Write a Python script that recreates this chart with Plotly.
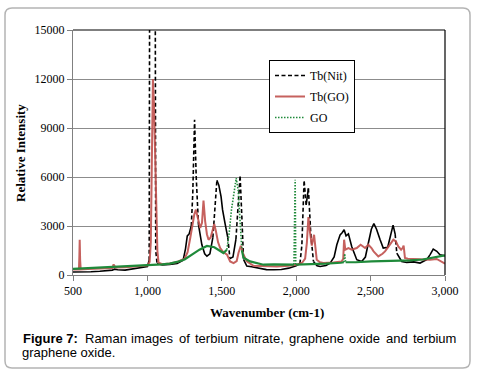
import plotly.graph_objects as go

# ---------------- data ----------------
tb_nit_x = [500, 560, 620, 680, 740, 765, 780, 800, 850, 900, 950, 1000, 1012, 1019, 1033, 1048, 1056, 1065,
            1100, 1150, 1200, 1240, 1256, 1268, 1280, 1295, 1305, 1317, 1328, 1343, 1366, 1385, 1400, 1420,
            1440, 1455, 1467, 1480, 1495, 1505, 1523, 1540, 1555, 1575, 1595, 1610, 1623, 1635, 1646, 1668,
            1700, 1750, 1800, 1850, 1900, 1950, 2000, 2025, 2038, 2053, 2067, 2082, 2098, 2116, 2140, 2161,
            2200, 2228, 2255, 2273, 2295, 2310, 2322, 2335, 2351, 2373, 2407, 2440, 2465, 2485, 2505, 2522,
            2540, 2564, 2585, 2615, 2635, 2651, 2665, 2676, 2709, 2743, 2790, 2832, 2877, 2900, 2921, 2945,
            2966, 3000]
tb_nit_y = [180, 170, 200, 230, 250, 300, 360, 320, 300, 370, 430, 520, 900, 40000, 45000, 40000, 1500, 700,
            620, 650, 700, 900, 1600, 2400, 2500, 3000, 5000, 9500, 6000, 3100, 1850, 1300, 1150, 1300,
            2300, 4200, 5800, 5500, 4800, 4000, 3100, 2300, 1000, 1100, 2200, 4500, 6100, 3500, 950, 550,
            500, 420, 330, 320, 340, 420, 560, 700, 1800, 5800, 4300, 5300, 2500, 830, 560, 520,
            580, 730, 1100, 1850, 2460, 2600, 2770, 2400, 2520, 1750, 935, 830, 1100, 1957, 2800, 3150,
            2800, 2160, 1650, 1700, 2400, 3050, 2500, 1345, 830, 770, 800, 730, 935, 1250, 1590, 1450,
            1240, 1180]

tb_go_x = [500, 540, 543, 545, 548, 552, 600, 700, 765, 773, 785, 850, 900, 1000, 1015, 1023, 1030, 1037,
           1044, 1050, 1056, 1061, 1067, 1075, 1100, 1150, 1200, 1250, 1270, 1288, 1300, 1315, 1326, 1340, 1355,
           1367, 1377, 1388, 1400, 1411, 1425, 1440, 1449, 1460, 1475, 1489, 1510, 1535, 1556, 1579, 1600,
           1612, 1628, 1646, 1668, 1713, 1800, 1870, 1950, 2004, 2040, 2060, 2072, 2082, 2093, 2105, 2120,
           2130, 2138, 2160, 2182, 2250, 2306, 2316, 2322, 2330, 2351, 2373, 2407, 2433, 2463, 2485, 2506,
           2520, 2552, 2580, 2597, 2625, 2653, 2670, 2686, 2705, 2715, 2722, 2731, 2750, 2809, 2850, 2899,
           2944, 2975, 3000]
tb_go_y = [340, 340, 1200, 2150, 900, 340, 360, 400, 420, 650, 460, 470, 500, 580, 800, 2000, 7000, 12000,
           10500, 8000, 6500, 4500, 1500, 750, 660, 700, 800, 1000, 1400, 2265, 3000, 3700, 4000, 3500, 2880,
           3200, 4550, 3300, 2500, 2160, 2300, 2800, 3120, 2700, 2000, 1650, 1400, 1250, 830, 730, 850,
           1345, 1790, 1240, 832, 560, 520, 526, 560, 630, 750, 1000, 2000, 3545, 2600, 1800, 2464,
           1700, 935, 780, 730, 760, 830, 1000, 2160, 1550, 1650, 1550, 1650, 1850, 1650, 1850, 1650,
           1445, 1140, 1300, 1445, 1800, 2160, 2050, 1750, 1550, 1650, 1800, 1040, 1000, 980, 950, 935,
           980, 850, 700]

go_x = [500, 600, 700, 800, 900, 1000, 1100, 1150, 1200, 1250, 1300, 1350, 1400, 1450, 1511, 1534, 1550,
        1565, 1580, 1597, 1610, 1622, 1635, 1646, 1690, 1780, 1850, 1985, 1993, 1997, 2100, 2200, 2300,
        2320, 2326, 2332, 2400, 2506, 2600, 2700, 2765, 2850, 2899, 2950, 3000]
go_y = [380, 420, 460, 520, 560, 620, 650, 700, 800, 950, 1250, 1550, 1780, 1700, 1345, 1550, 2600,
        4000, 5000, 5930, 5200, 3000, 1500, 1055, 830, 630, 650, 640, 5830, 640, 650, 700, 750,
        780, 1300, 780, 780, 830, 850, 880, 895, 950, 1040, 1100, 1200]

x_ticks = [500, 1000, 1500, 2000, 2500, 3000]
y_ticks = [0, 3000, 6000, 9000, 12000, 15000]

caption_words = ["<b>Figure 7:</b>", "Raman", "images", "of", "terbium", "nitrate,", "graphene",
                 "oxide", "and", "terbium"]
caption_line2 = "graphene oxide."

X_RANGE = [500, 3000]
Y_RANGE = [0, 15000]

# ---------------- layout geometry ----------------
W, H = 479, 377
ML, MR, MT, MB = 73, 34, 30, 102
PW, PH = W - ML - MR, H - MT - MB

# left pixel positions of the justified caption words (layout, not data)
caption_word_px = [20.7, 82.7, 129.3, 176.7, 193.3, 242.3, 287.3, 346.7, 384.3, 411.0]


def px_x(px):
    return (px - ML) / PW


def px_y(py):
    return (H - MB - py) / PH


def split_steep(xs, ys, thr):
    """Excel restarts a dash pattern on every segment, so only long, steep
    segments look dashed. Split the series into steep / gentle runs."""
    sx, sy, dx, dy = [], [], [], []
    prev = None
    for i in range(len(xs) - 1):
        wpx = (xs[i + 1] - xs[i]) / (X_RANGE[1] - X_RANGE[0]) * PW
        y0 = min(ys[i], Y_RANGE[1])
        y1 = min(ys[i + 1], Y_RANGE[1])
        hpx = abs(y1 - y0) / (Y_RANGE[1] - Y_RANGE[0]) * PH
        steep = hpx > thr * wpx
        tx, ty = (dx, dy) if steep else (sx, sy)
        if prev != steep:
            if tx:
                tx.append(None)
                ty.append(None)
            tx.append(xs[i])
            ty.append(ys[i])
        tx.append(xs[i + 1])
        ty.append(ys[i + 1])
        prev = steep
    return sx, sy, dx, dy


BLACK = "#000000"
RED = "#C0504D"
GREEN = "#1F8A3A"

fig = go.Figure()

nsx, nsy, ndx, ndy = split_steep(tb_nit_x, tb_nit_y, 9)
fig.add_trace(go.Scatter(x=nsx, y=nsy, mode="lines", line=dict(color=BLACK, width=1.6),
                         legendgroup="a", showlegend=False, connectgaps=False, hoverinfo="skip"))
fig.add_trace(go.Scatter(x=ndx, y=ndy, mode="lines", name="Tb(Nit)",
                         line=dict(color=BLACK, width=1.6, dash="4px,2.5px"),
                         legendgroup="a", connectgaps=False, hoverinfo="skip"))

fig.add_trace(go.Scatter(x=tb_go_x, y=tb_go_y, mode="lines", name="Tb(GO)",
                         line=dict(color=RED, width=2), opacity=0.9, legendgroup="b", hoverinfo="skip"))

gsx, gsy, gdx, gdy = split_steep(go_x, go_y, 6)
fig.add_trace(go.Scatter(x=gsx, y=gsy, mode="lines", line=dict(color=GREEN, width=2.2),
                         legendgroup="c", showlegend=False, connectgaps=False, hoverinfo="skip"))
fig.add_trace(go.Scatter(x=gdx, y=gdy, mode="lines", name="GO",
                         line=dict(color=GREEN, width=1.6, dash="1.5px,1.5px"),
                         legendgroup="c", connectgaps=False, hoverinfo="skip"))

serif = "Liberation Serif, Times New Roman, serif"
sans = "Liberation Sans, Arial, sans-serif"

fig.update_xaxes(range=X_RANGE, tickvals=x_ticks, tickformat=",d", showgrid=False, zeroline=False,
                 showline=True, linecolor="#808080", linewidth=1, ticks="outside", ticklen=5,
                 tickcolor="#808080", tickfont=dict(family=serif, size=12, color="#000"))
fig.update_yaxes(range=Y_RANGE, tickvals=y_ticks, tickformat="d", showgrid=True, gridcolor="#8c8c8c",
                 gridwidth=1, zeroline=False, showline=True, linecolor="#808080", linewidth=1,
                 ticks="outside", ticklen=5, tickcolor="#808080",
                 tickfont=dict(family=serif, size=12, color="#000"))

# rounded outer frame
x0, y0, x1, y1, r = 5, 8, 470, 368, 7
path = (f"M {px_x(x0 + r)},{px_y(y0)} L {px_x(x1 - r)},{px_y(y0)} "
        f"Q {px_x(x1)},{px_y(y0)} {px_x(x1)},{px_y(y0 + r)} L {px_x(x1)},{px_y(y1 - r)} "
        f"Q {px_x(x1)},{px_y(y1)} {px_x(x1 - r)},{px_y(y1)} L {px_x(x0 + r)},{px_y(y1)} "
        f"Q {px_x(x0)},{px_y(y1)} {px_x(x0)},{px_y(y1 - r)} L {px_x(x0)},{px_y(y0 + r)} "
        f"Q {px_x(x0)},{px_y(y0)} {px_x(x0 + r)},{px_y(y0)} Z")

shapes = [
    dict(type="path", path=path, xref="paper", yref="paper", line=dict(color="#b4b4b4", width=1.5)),
    dict(type="line", xref="paper", yref="paper", x0=0, x1=1, y0=1, y1=1, line=dict(color="#000", width=1.2)),
    dict(type="line", xref="paper", yref="paper", x0=1, x1=1, y0=0, y1=1, line=dict(color="#000", width=1.2)),
]

annotations = [
    dict(text="<b>Wavenumber (cm-1)</b>", xref="paper", yref="paper", x=px_x(267), y=px_y(312),
         xanchor="center", yanchor="middle", showarrow=False, font=dict(family=serif, size=13, color="#000")),
    dict(text="<b>Relative Intensity</b>", xref="paper", yref="paper", x=px_x(20), y=px_y(153),
         xanchor="center", yanchor="middle", textangle=-90, showarrow=False,
         font=dict(family=serif, size=13, color="#000")),
    dict(text=caption_line2, xref="paper", yref="paper", x=px_x(20), y=px_y(352),
         xanchor="left", yanchor="middle", showarrow=False, font=dict(family=sans, size=13, color="#000")),
]
for word, wx in zip(caption_words, caption_word_px):
    annotations.append(dict(text=word, xref="paper", yref="paper", x=px_x(wx), y=px_y(338),
                            xanchor="left", yanchor="middle", showarrow=False,
                            font=dict(family=sans, size=13, color="#000")))

fig.update_layout(
    width=W, height=H, margin=dict(l=ML, r=MR, t=MT, b=MB),
    paper_bgcolor="white", plot_bgcolor="white",
    shapes=shapes, annotations=annotations,
    hovermode=False,
    legend=dict(x=px_x(269), y=px_y(60), xanchor="left", yanchor="top",
                bordercolor="#000", borderwidth=1, bgcolor="white", traceorder="grouped",
                tracegroupgap=2, font=dict(family=serif, size=12, color="#000")),
    showlegend=True,
)

fig.write_html("out.html", config={"displayModeBar": False},
               post_script="document.body.style.margin='0';document.body.style.overflow='hidden';")
